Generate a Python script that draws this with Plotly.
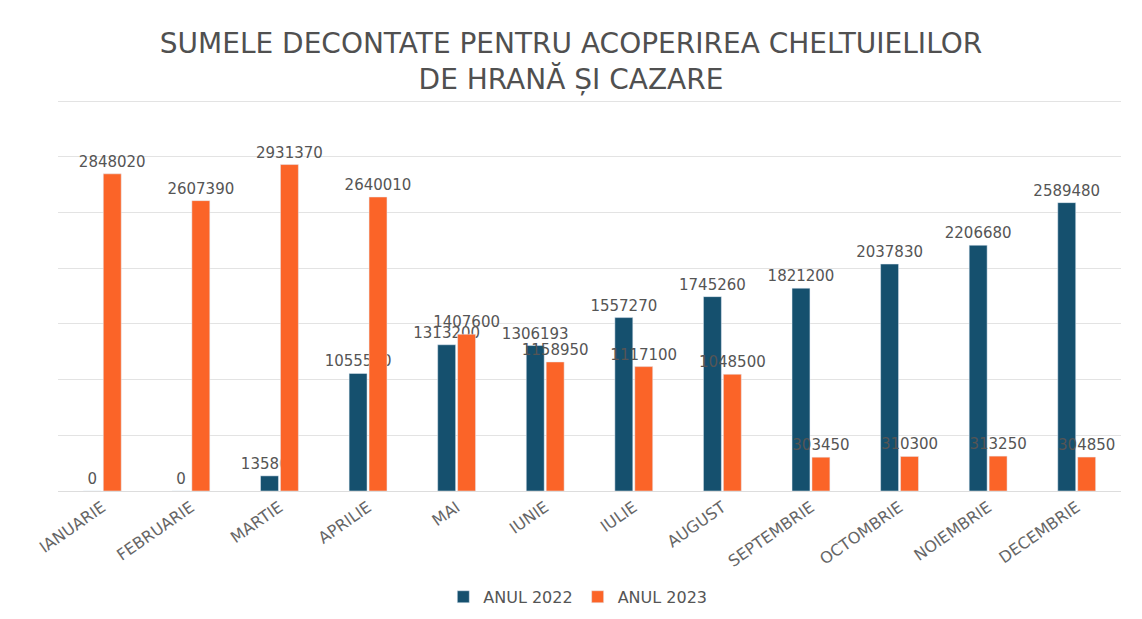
import plotly.graph_objects as go

months = ["IANUARIE", "FEBRUARIE", "MARTIE", "APRILIE", "MAI", "IUNIE", "IULIE",
          "AUGUST", "SEPTEMBRIE", "OCTOMBRIE", "NOIEMBRIE", "DECEMBRIE"]
anul_2022 = [0, 0, 135860, 1055500, 1313200, 1306193, 1557270, 1745260,
             1821200, 2037830, 2206680, 2589480]
anul_2023 = [2848020, 2607390, 2931370, 2640010, 1407600, 1158950, 1117100,
             1048500, 303450, 310300, 313250, 304850]

c2022 = "#15506e"
c2023 = "#fb6428"
FONT = "DejaVu Sans, Verdana, sans-serif"
label_font = dict(family=FONT, size=15, color="#555555")

fig = go.Figure()
fig.add_trace(go.Bar(
    x=months, y=anul_2022, name="ANUL 2022", marker_color=c2022,
    text=[str(v) for v in anul_2022], textposition="outside",
    constraintext="none", textfont=label_font, cliponaxis=False,
))
fig.add_trace(go.Bar(
    x=months, y=anul_2023, name="ANUL 2023", marker_color=c2023,
    text=[str(v) for v in anul_2023], textposition="outside",
    constraintext="none", textfont=label_font, cliponaxis=False,
))

fig.update_layout(
    width=1142, height=619,
    paper_bgcolor="white", plot_bgcolor="white",
    margin=dict(l=58, r=21, t=99, b=128, autoexpand=False),
    barmode="group", bargap=0.55, bargroupgap=0.1,
    title=dict(
        text="SUMELE DECONTATE PENTRU ACOPERIREA CHELTUIELILOR<br>DE HRANĂ ȘI CAZARE",
        x=0.5, xanchor="center", y=0.915, yanchor="middle",
        font=dict(family=FONT, size=28, color="#505050"),
    ),
    xaxis=dict(
        tickangle=-35, showline=True, linecolor="#dddddd", ticks="",
        automargin=False,
        tickfont=dict(family=FONT, size=16, color="#666666"),
    ),
    yaxis=dict(
        range=[0, 3520000], dtick=500000, showticklabels=False, automargin=False,
        showgrid=True, gridcolor="#e3e3e3", gridwidth=1, zeroline=False,
    ),
    legend=dict(
        orientation="h", x=0.489, xanchor="center", y=-0.27, yanchor="middle",
        font=dict(family=FONT, size=16, color="#555555"),
        itemwidth=30,
    ),
)

fig.write_html("out.html", config={"displayModeBar": False},
               post_script="document.body.style.margin='0';")
